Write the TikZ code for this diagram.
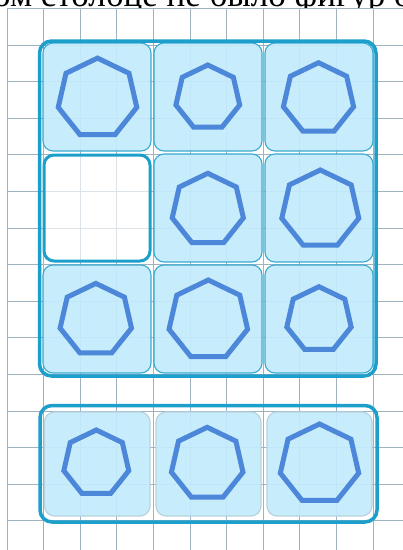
\documentclass[tikz,border=0pt]{standalone}
\usepackage{fontspec}
\setmainfont{Liberation Serif}
\definecolor{gridc}{HTML}{9FB2C0}
\definecolor{framec}{HTML}{1C9FCB}
\definecolor{cellfill}{HTML}{C3EBFC}
\definecolor{cellline}{HTML}{3AAAD0}
\definecolor{softline}{HTML}{B9D3DF}
\definecolor{hepc}{HTML}{4C87D9}
\tikzset{
  gridl/.style={draw=gridc, line width=0.9pt},
  frame/.style={draw=framec, line width=3.5pt, rounded corners=12pt},
  cellbox/.style={draw=cellline, line width=1.1pt, fill=cellfill, fill opacity=0.92, draw opacity=1, rounded corners=10pt},
  softcell/.style={draw=softline, line width=1.2pt, fill=cellfill, fill opacity=0.92, rounded corners=10pt},
  emptybox/.style={draw=framec, line width=3pt, fill=white, fill opacity=0.65, rounded corners=10pt},
  hep/.style={draw=hepc, line width=5pt, line join=miter},
}
\newcommand\hepta[3]{\draw[hep] (#1,#2) +(-90:#3) -- +(-38.571:#3) -- +(12.857:#3) -- +(64.286:#3) -- +(115.714:#3) -- +(167.143:#3) -- +(218.571:#3) -- cycle;}
\begin{document}
\begin{tikzpicture}[x=1pt,y=-1pt]
\useasboundingbox (0,0) rectangle (403,550);
\clip (0,0) rectangle (403,550);
\fill[white] (0,0) rectangle (403,550);
% grid
\foreach \i in {0,...,10} \draw[gridl] (7+36.6*\i,8.5) -- (7+36.6*\i,550);
\foreach \j in {0,...,14} \draw[gridl] (7,8.5+36.6*\j) -- (403,8.5+36.6*\j);
% title (cut off at the top edge, as in the reference)
\begin{scope}
\clip (-10,-20) rectangle (410,7.5);
\node[anchor=base west, inner sep=0pt, font=\fontsize{35}{40}\selectfont] (title) at (-7,6.5) {ом столбце не было фигур од};
\end{scope}
% top group cells
\foreach \xa/\xb in {43/151,154/262,265/373}{
  \foreach \ya/\yb in {43/151,265/373}{
    \path[cellbox] (\xa,\ya) rectangle (\xb,\yb);
  }
}
\path[cellbox] (154,154) rectangle (262,262);
\path[cellbox] (265,154) rectangle (373,262);
\path[emptybox] (44,155) rectangle (150,261);
\draw[frame] (39.5,41) rectangle (376,376);
% bottom group
\foreach \xa/\xb in {44.5/150,156/261,267/372}{
  \path[softcell] (\xa,412) rectangle (\xb,516);
}
\draw[frame] (40,405.5) rectangle (377,522);
% heptagons
\hepta{97.5}{98.4}{40.3}
\hepta{207.8}{97.7}{32.7}
\hepta{318.5}{98.7}{36}
\hepta{207.8}{209.8}{36.5}
\hepta{320.3}{209.5}{39.5}
\hepta{95.8}{320}{36.6}
\hepta{208.3}{320.3}{40.3}
\hepta{319}{319.7}{33}
\hepta{96.3}{463.3}{33.3}
\hepta{207.2}{464}{36.7}
\hepta{319.5}{464.2}{40.2}
\end{tikzpicture}
\end{document}
